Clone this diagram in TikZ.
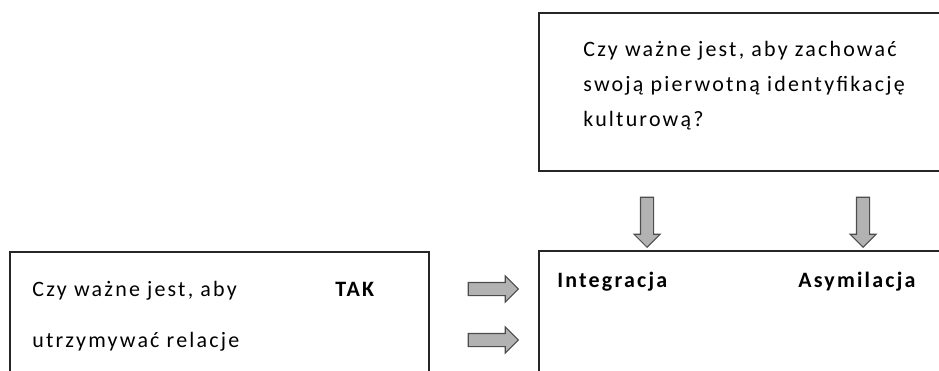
\documentclass[tikz,border=0pt]{standalone}
\usepackage{fontspec}
\setmainfont{Carlito}[LetterSpace=10]
\usepackage{tikz}
\usetikzlibrary{positioning}
\usetikzlibrary{shapes,arrows}

\begin{document}
\begin{tikzpicture}
    [%%%%%%%%%%%%%%%%%%%%%%%%%%%%%%
        x=0.02cm,y=-0.02cm,
        box/.style={rectangle,draw=black!85,line width=0.9pt,anchor=north west,inner sep=0pt},
        txt/.style={anchor=base west,inner sep=0pt,font=\fontsize{12.5}{15}\selectfont},
        bold/.style={anchor=base west,inner sep=0pt,font=\fontsize{12.5}{15}\selectfont\bfseries},
        blockarrow/.style={single arrow,draw=black!70,fill=black!30,line width=0.6pt,inner xsep=0pt,inner ysep=0.12cm,
            minimum height=1cm,minimum width=0pt,single arrow head extend=0.13cm,single arrow head indent=0pt}
    ]%%%%%%%%%%%%%%%%%%%%%%%%%%%%%%
\useasboundingbox (0,0) rectangle (939,371);
\clip (0,0) rectangle (939,371);

% top box
\node[box,minimum width=8.44cm,minimum height=3.16cm] (pytanie) at (538,12){};
\node[txt] (p1) at (583,57){Czy ważne jest, aby zachować};
\node[txt] (p2) at (583,92){swoją pierwotną identyfikację};
\node[txt] (p3) at (583,127){kulturową?};

% left box
\node[box,minimum width=8.38cm,minimum height=3cm] (relacje) at (9,251){};
\node[txt] (r1) at (32,296){Czy ważne jest, aby};
\node[bold] (tak) at (335,296){TAK};
\node[txt] (r2) at (32,347){utrzymywać relacje};

% right box
\node[box,minimum width=8.44cm,minimum height=3cm] (strategie) at (538,250){};
\node[bold] (integ) at (557,287){Integracja};
\node[bold] (asym) at (798,287){Asymilacja};

% arrows
\node[blockarrow] (s1) at (490,289){};
\node[blockarrow] (s2) at (490,340){};
\node[blockarrow,rotate=-90] (s3) at (647,219){};
\node[blockarrow,rotate=-90] (s4) at (863,219){};

\end{tikzpicture}
\end{document}
